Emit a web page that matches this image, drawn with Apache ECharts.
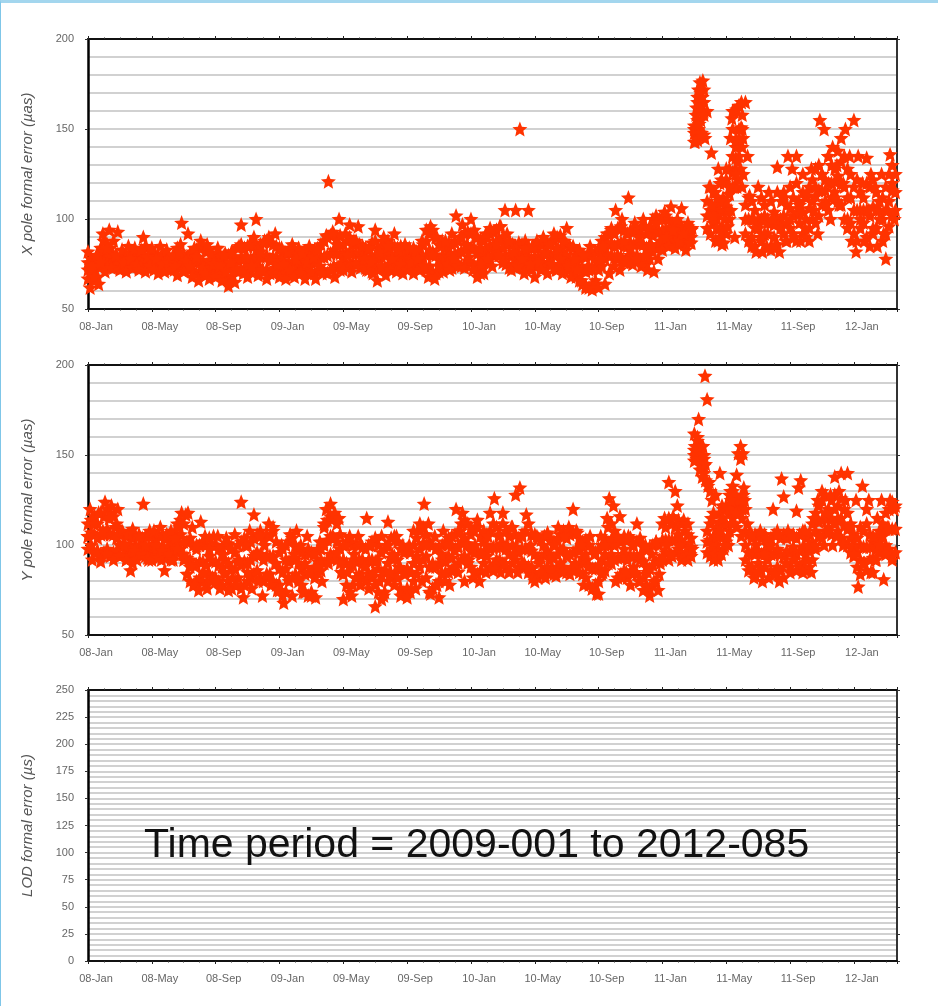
<!DOCTYPE html>
<html><head><meta charset="utf-8">
<script src="https://cdn.jsdelivr.net/npm/echarts@6/dist/echarts.min.js"></script>
<style>
html,body{margin:0;padding:0;background:#fff;overflow:hidden}
#frame{position:absolute;left:0;top:0;width:938px;height:1006px;box-sizing:border-box;border-top:3px solid #a3d6ee;border-left:1.5px solid #7fc6e8}
#c{position:absolute;left:0;top:0;width:938px;height:1006px;filter:blur(0.6px)}
</style></head><body>
<div id="c"></div><div id="frame"></div>
<script>
// x axis unit = months from first tick. Main lists hold 30 readings per 4-month tick period, band lists 20 per period.
const mainStep = 4/30, bandStep = 4/20;
const tickLabels = ['08-Jan','08-May','08-Sep','09-Jan','09-May','09-Sep','10-Jan','10-May','10-Sep','11-Jan','11-May','11-Sep','12-Jan'];
const xPoleErr = [
82,62,74,68,80,64,76,92,71,84,94,73,88,80,93,72,83,76,71,85,78,73,84,75,72,83,90,71,79,74,
84,72,78,70,85,75,71,83,76,72,80,74,69,82,98,71,77,92,74,68,84,79,66,88,73,70,86,67,81,75,
68,84,74,66,80,71,63,76,82,65,72,85,97,70,79,68,86,74,90,100,69,82,72,88,67,90,77,70,92,75,
68,84,75,67,82,72,86,68,78,84,70,81,67,76,85,71,79,67,83,74,70,88,91,121,72,93,68,86,100,75,
72,92,80,97,71,88,75,96,73,85,78,72,84,76,70,94,66,82,74,90,69,85,72,78,92,71,83,75,70,86,
72,84,76,70,82,78,72,88,74,94,68,96,80,67,90,74,85,71,88,75,72,92,78,102,74,90,97,73,86,79,
100,72,90,68,84,75,70,92,78,95,74,82,86,80,96,76,105,92,88,72,82,105,74,150,78,70,84,105,75,85,
68,88,76,72,90,82,70,86,75,92,72,84,78,70,88,95,74,68,85,78,72,83,66,80,62,74,85,61,78,64,
62,78,85,64,92,70,95,74,105,80,72,100,88,76,112,84,75,98,78,90,74,100,80,72,96,85,71,98,78,88,
83,104,90,85,107,94,84,100,88,106,92,83,98,87,95,143,162,150,170,177,145,160,118,137,100,88,112,95,86,120,
128,105,145,160,90,118,163,151,125,165,135,113,85,100,82,118,90,82,102,85,115,83,100,85,129,82,110,115,88,135,
100,128,90,135,110,88,125,95,115,88,128,105,118,92,155,125,150,108,135,100,140,112,130,108,145,120,150,100,135,88,
155,82,135,100,120,88,134,105,125,95,118,85,110,125,92,78,105,136,120,100];
const xPoleBandHigh = [
76,78,76,80,84,88,86,84,80,80,78,80,79,81,78,80,79,82,85,78,
80,81,79,80,79,80,78,80,84,86,80,79,81,82,83,84,85,82,83,80,
79,80,79,81,80,82,79,84,86,84,85,86,85,83,86,87,88,87,86,85,
84,82,81,82,83,81,80,81,82,80,81,83,84,86,88,90,91,92,90,91,
86,88,90,86,88,86,85,84,83,87,88,84,85,87,88,86,85,84,85,83,
82,83,84,82,84,86,88,92,94,90,86,88,85,84,86,87,88,90,92,93,
92,94,90,89,88,90,92,93,94,96,90,86,88,86,85,87,86,88,85,84,
85,84,86,88,87,86,88,90,91,88,86,85,84,80,78,80,79,81,80,82,
84,88,90,92,94,92,95,96,94,92,94,93,95,94,96,92,94,100,102,100,
100,102,100,98,96,98,96,95,96,94,148,168,155,160,110,118,115,108,120,112,
122,128,135,140,150,158,108,112,110,105,100,112,108,100,110,104,115,100,112,108,
118,112,120,108,115,112,118,122,128,130,125,122,135,130,128,138,132,135,128,125,
118,122,115,112,120,118,122,115,110,112,118,125,130,125];
const xPoleBandMid = [
72,74,71,74,79,82,80,79,77,77,76,77,76,78,76,77,76,78,79,75,
77,78,77,77,76,77,76,76,79,80,76,76,76,77,76,77,77,75,77,75,
75,75,74,74,73,75,75,77,79,78,78,78,79,78,79,79,80,78,79,79,
77,77,75,76,76,76,75,76,77,75,76,76,77,79,79,80,81,83,81,81,
81,81,82,81,81,81,79,78,77,79,80,78,79,80,81,80,79,79,79,79,
78,78,79,77,78,79,80,83,82,80,78,80,79,79,79,81,81,82,83,85,
84,84,81,79,80,83,85,86,88,88,84,80,80,80,79,81,81,81,79,78,
79,79,79,81,81,80,80,81,82,82,80,78,77,74,72,72,71,72,72,74,
78,81,84,86,87,85,86,87,85,85,87,86,87,86,86,84,86,91,93,93,
94,94,95,92,92,92,91,90,92,90,150,155,148,165,102,105,106,104,105,104,
107,114,126,134,142,150,100,100,100,95,97,100,100,92,98,97,100,98,102,98,
106,102,104,103,104,100,106,110,113,116,116,116,120,120,121,124,120,118,112,112,
105,105,105,105,105,102,107,105,105,100,105,110,116,115];
const xPoleBandLow = [
67,70,66,68,74,76,75,74,73,74,75,73,74,75,73,74,73,75,74,73,
73,74,75,74,73,74,73,72,74,75,72,73,72,71,70,71,70,69,72,71,
72,71,70,67,66,68,72,71,72,73,72,71,73,74,72,71,72,70,72,73,
71,72,70,71,69,71,70,71,72,70,71,70,71,72,71,70,72,74,73,72,
76,75,74,76,75,76,74,73,72,71,73,72,74,73,74,75,73,74,73,75,
74,73,74,73,72,73,72,74,71,70,71,72,74,75,73,76,75,74,75,77,
76,74,72,70,73,76,78,80,82,80,78,75,73,74,73,75,76,74,73,72,
74,75,73,74,76,75,73,72,74,76,74,72,70,68,66,64,63,62,64,66,
72,74,78,80,80,79,78,79,76,78,80,79,80,78,76,75,78,82,84,86,
88,86,90,87,88,86,87,86,88,87,152,146,163,147,95,92,98,100,90,95,
92,100,118,128,135,140,92,88,90,85,95,88,92,98,85,90,86,95,92,88,
95,92,88,98,92,90,95,100,98,102,108,110,105,112,115,110,108,100,95,98,
92,88,95,98,90,85,92,95,100,88,92,96,102,105];
const xPoleExtra = [[38.05,143],[38.1,150],[38.2,144],[38.1,158],[38.3,153],[38.2,165],[38.4,160],[38.25,172],[38.5,168],[38.6,172],[38.45,148],[38.6,158],[38.35,176],
[40.35,156],[40.5,160],[40.65,161],[40.8,163],[40.95,165],[40.6,144],[40.4,150],[40.8,145],[41.05,145],[40.7,132],[40.9,128],[40.75,122],[41,118],[40.6,125],[40.5,118],
[40.2,118],[40,110],[39.6,110],[39.3,115],[39.5,128],[39.7,122],[39.2,102],[39.4,95],[39.7,90],[39.9,100],[40.1,96],[40.3,105],[39.1,108],[39.5,88],[39.85,87]];
const yPoleErr = [
105,120,92,112,96,118,91,108,124,95,115,122,92,110,120,94,108,100,92,106,86,109,97,92,105,95,123,100,93,108,
92,108,100,93,110,97,86,106,95,108,92,104,98,110,118,95,117,118,88,110,78,100,75,113,85,105,76,98,80,105,
80,105,76,95,85,104,75,98,82,106,78,92,124,71,100,85,108,76,117,95,80,105,72,100,84,112,78,110,90,75,
75,100,68,92,82,106,72,95,108,80,100,74,90,105,85,72,95,71,88,102,80,112,120,90,123,105,118,96,115,85,
70,100,85,105,72,95,82,105,78,92,88,115,76,100,85,66,92,80,105,72,100,113,85,95,78,105,88,72,100,84,
71,100,85,108,76,92,112,80,123,100,112,73,90,105,78,71,95,108,85,100,78,105,88,120,85,108,118,80,100,92,
110,82,100,114,80,95,108,85,105,118,88,126,92,105,85,118,90,100,85,110,95,128,85,132,105,90,117,88,100,82,
80,105,90,85,100,82,107,92,85,100,83,110,90,85,105,95,110,87,120,90,107,85,100,78,95,88,105,76,95,73,
73,105,85,100,115,126,90,122,80,105,116,82,98,85,105,78,100,85,112,80,95,75,100,85,72,95,80,102,75,90,
92,115,100,135,95,116,130,122,100,92,114,96,112,95,98,162,150,170,145,155,194,181,135,115,92,128,96,140,122,98,
120,100,130,115,125,110,118,105,128,120,112,88,106,82,100,85,108,80,95,104,82,100,120,84,106,80,137,127,90,108,
85,105,92,119,132,136,85,108,92,100,85,115,100,125,105,130,100,118,108,128,100,138,105,130,140,100,125,140,110,99,
95,125,77,110,133,90,120,125,85,105,92,115,100,125,81,95,110,125,92,120];
const yPoleBandHigh = [
112,114,116,112,118,116,120,118,116,112,106,107,105,106,104,105,106,104,105,106,
105,104,106,105,104,105,103,106,112,114,112,102,104,100,98,100,102,100,104,100,
100,98,99,100,101,98,96,100,102,104,100,102,104,106,108,104,106,105,108,102,
96,98,100,102,104,100,98,96,95,98,96,95,97,98,110,114,116,115,112,106,
100,102,104,100,101,100,99,98,100,102,104,100,96,98,100,104,105,102,98,96,
98,96,100,104,108,110,106,102,100,98,99,100,102,104,100,106,108,112,114,112,
106,108,110,105,102,106,108,112,110,106,112,108,105,110,106,104,106,108,112,106,
106,104,103,105,106,104,102,103,106,108,104,106,107,108,104,102,103,100,98,96,
98,100,104,110,112,108,104,102,105,103,104,100,102,104,100,98,99,100,102,100,
112,110,115,112,110,114,112,108,106,104,153,158,150,148,108,112,105,110,118,120,
122,128,130,125,120,126,108,106,104,106,105,104,106,100,104,106,108,104,106,104,
105,106,104,106,108,104,106,112,118,122,125,128,120,125,128,122,126,120,118,112,
106,104,100,108,112,106,102,104,108,112,118,120,124,122];
const yPoleBandMid = [
105,107,106,104,106,106,109,106,106,104,100,101,98,100,97,99,100,100,99,99,
100,100,100,98,98,99,97,100,104,106,102,93,92,89,89,91,91,89,94,91,
91,89,88,92,90,87,87,91,89,91,90,92,94,96,95,92,94,94,94,90,
87,85,87,91,93,92,90,87,84,85,85,88,91,92,100,103,105,104,102,98,
92,90,89,89,91,92,90,89,92,92,91,87,83,86,90,93,94,92,87,85,
87,85,90,94,98,101,94,88,88,88,89,92,91,94,93,97,99,102,104,101,
97,96,97,95,96,100,98,99,99,99,101,98,95,100,99,96,98,98,98,97,
95,93,93,95,97,95,93,95,98,98,94,95,96,98,97,93,92,89,87,87,
89,92,95,100,103,100,93,93,95,92,94,94,93,92,91,88,87,89,91,92,
103,103,103,103,103,106,103,101,99,99,150,155,148,144,102,103,101,105,113,112,
112,118,121,121,121,120,100,96,96,95,97,95,97,96,95,95,98,95,94,97,
96,99,95,97,99,95,97,102,108,113,114,118,115,115,120,115,115,111,109,104,
100,96,92,99,99,99,93,98,102,105,109,109,109,109];
const yPoleBandLow = [
98,100,96,97,95,96,98,94,96,97,94,95,92,94,90,93,95,96,94,92,
95,96,94,92,93,94,92,95,96,98,92,84,80,78,80,82,80,78,84,82,
82,80,78,84,80,76,78,82,76,78,80,82,84,86,82,80,82,84,80,78,
78,72,74,80,82,84,82,78,74,72,74,82,85,86,90,92,95,94,92,90,
84,78,74,78,82,84,82,80,84,82,78,74,70,74,80,82,84,82,76,74,
76,74,80,84,88,92,82,74,76,78,80,84,80,85,86,88,90,92,94,90,
88,85,84,86,90,94,88,86,88,92,90,88,86,90,92,88,90,88,85,88,
84,82,84,86,88,86,84,88,90,88,85,84,86,88,90,84,82,78,76,78,
80,84,86,90,95,92,82,84,86,82,85,88,84,80,82,78,76,78,80,84,
94,96,92,94,96,98,95,94,92,94,147,152,146,140,96,94,98,100,108,105,
102,108,112,118,122,115,92,86,88,84,90,86,88,92,86,84,88,86,82,90,
88,92,86,88,90,86,88,92,98,105,104,108,110,106,112,108,104,102,100,96,
94,88,84,90,86,92,85,92,96,98,100,98,94,96];
const yPoleExtra = [[38.05,155],[38.15,148],[38.2,160],[38.3,152],[38.4,148],[38.5,155],[38.6,150],[38.35,142],[38.5,138],[38.7,145],[38.7,136],[38.85,133],[39,130],[39.1,125],
[39.2,118],[39.3,95],[39.5,92],[39.7,95],[39.9,100],[39.4,105],[39.6,108],[39.8,115],[40,122],[40.2,120],[40.4,112],[40.1,105],[40.4,133],[40.6,128],[40.8,125],[40.6,118],[40.3,125],
[40.75,151],[40.9,155],[41.05,151],[40.9,148],[40.65,139],[41.1,132],[41.15,125]];
const lodErr = [];
const xMax = 50.7;

const star = 'path://M50,0 L63,33 L98,36 L72,58 L80,93 L50,75 L20,93 L28,58 L2,36 L37,33 Z';
const points = (vals, step) => vals.map((v,i)=>[i*step, v]);
const merge = (main, high, mid, low, extra) => points(high,bandStep).concat(points(mid,bandStep), points(low,bandStep), points(main,mainStep), extra);

const panels = [
 {top:39, h:270, min:50, max:200, interval:50, split:5, name:'X pole formal error (µas)', data:merge(xPoleErr,xPoleBandHigh,xPoleBandMid,xPoleBandLow,xPoleExtra)},
 {top:365,h:270, min:50, max:200, interval:50, split:5, name:'Y pole formal error (µas)', data:merge(yPoleErr,yPoleBandHigh,yPoleBandMid,yPoleBandLow,yPoleExtra)},
 {top:690,h:271, min:0,  max:250, interval:25, split:5, name:'LOD formal error (µs)', data:points(lodErr,mainStep)}
];
const labelFont = {fontFamily:'Liberation Sans',fontSize:11,color:'#666'};
const grid=[],xAxis=[],yAxis=[],series=[];
panels.forEach((p,k)=>{
  grid.push({left:88,width:809,top:p.top,height:p.h});
  const xa=(pos,lineColor,w,show)=>({type:'value',gridIndex:k,position:pos,min:0,max:xMax,interval:4,splitLine:{show:false},
    axisLine:{show:true,onZero:false,lineStyle:{color:lineColor,width:w}},
    axisTick:{show:true,length:3,lineStyle:{color:'#222',width:1}},
    minorTick:{show:true,splitNumber:4,length:1.5,lineStyle:{color:'#333',width:1}},
    axisLabel:{show:show,...labelFont,margin:12,align:'center',padding:[0,0,0,16],showMaxLabel:false,
      formatter:v=>tickLabels[v/4]||''}});
  xAxis.push(xa('bottom','#111',2,true),xa('top','#111',2,false));
  const yLine={color:'#c2c2c2',width:1.5};
  yAxis.push({type:'value',gridIndex:k,position:'left',min:p.min,max:p.max,interval:p.interval,
    name:p.name,nameLocation:'middle',nameGap:53,
    nameTextStyle:{fontFamily:'Liberation Sans',fontStyle:'italic',fontSize:15,color:'#555'},
    axisLine:{show:true,onZero:false,lineStyle:{color:'#000',width:2.5}},
    axisTick:{show:true,length:3,lineStyle:{color:'#333'}},
    axisLabel:{...labelFont,margin:14},
    splitLine:{show:true,lineStyle:yLine},
    minorTick:{show:false,splitNumber:p.split},
    minorSplitLine:{show:true,lineStyle:yLine}});
  yAxis.push({type:'value',gridIndex:k,position:'right',min:p.min,max:p.max,interval:p.interval,
    axisLine:{show:true,onZero:false,lineStyle:{color:'#333',width:2}},
    axisTick:{show:true,length:3,lineStyle:{color:'#333'}},
    axisLabel:{show:false},splitLine:{show:false}});
  series.push({type:'scatter',xAxisIndex:2*k,yAxisIndex:2*k,data:p.data,symbol:star,symbolSize:15,
    itemStyle:{color:'#ff3300',opacity:1},clip:true,silent:true,animation:false,large:false});
});
const chart=echarts.init(document.getElementById('c'),null,{renderer:'canvas'});
chart.setOption({animation:false,backgroundColor:'#fff',grid,xAxis,yAxis,series,
  title:{text:'Time period = 2009-001 to 2012-085',left:144,top:825,padding:0,
    textStyle:{fontFamily:'Liberation Sans',fontWeight:'normal',fontSize:41,color:'#111'}}});
</script>
</body></html>
